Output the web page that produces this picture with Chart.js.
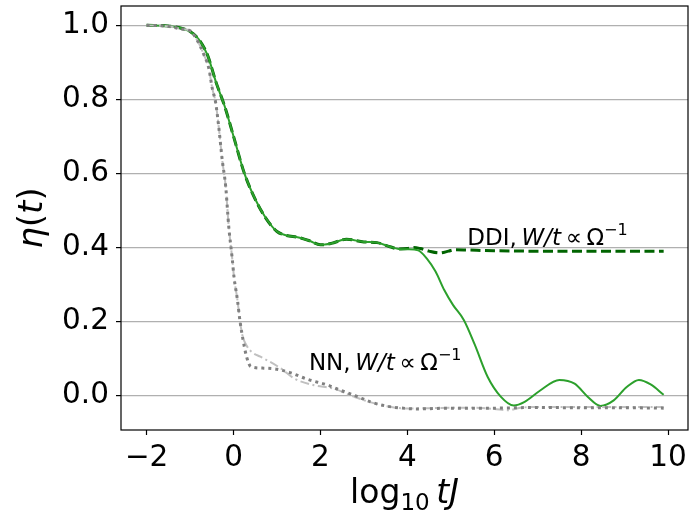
<!DOCTYPE html>
<html>
<head>
<meta charset="utf-8">
<script src="https://cdn.jsdelivr.net/npm/chart.js@4.4.1/dist/chart.umd.min.js"></script>
<style>
  html, body { margin: 0; padding: 0; background: #fff; }
  #wrap { width: 689px; height: 523px; }
</style>
</head>
<body>
<div id="wrap"><canvas id="chart" width="689" height="523"></canvas></div>
<script>
// Eixo x: log10 tJ, eixo y: eta(t)
const xTicks = [-2, 0, 2, 4, 6, 8, 10];
const yTicks = [0.0, 0.2, 0.4, 0.6, 0.8, 1.0];

// DDI, linha verde continua
const ddiSolidX = [-2, -1.5, -1.2, -1.0, -0.8, -0.6, -0.4, -0.2, 0, 0.25, 0.5, 0.75, 1.0, 1.2, 1.5, 1.75, 2.0, 2.25, 2.6, 3.0, 3.3, 3.6, 3.8, 4.0, 4.25, 4.45, 4.65, 4.85, 5.05, 5.3, 5.55, 5.85, 6.15, 6.45, 6.7, 7.05, 7.5, 7.85, 8.15, 8.45, 8.75, 9.05, 9.33, 9.6, 9.9];
const ddiSolidY = [1.0, 0.998, 0.992, 0.983, 0.962, 0.92, 0.845, 0.78, 0.70, 0.60, 0.53, 0.478, 0.443, 0.433, 0.427, 0.418, 0.407, 0.411, 0.422, 0.415, 0.413, 0.402, 0.396, 0.395, 0.392, 0.37, 0.335, 0.285, 0.245, 0.204, 0.138, 0.05, -0.003, -0.027, -0.017, 0.013, 0.042, 0.032, -0.003, -0.028, -0.013, 0.023, 0.042, 0.03, 0.002];

// DDI, W/t ~ Omega^-1 (tracejada verde escura)
const ddiDashedX = [-2, -1.5, -1.2, -1.0, -0.8, -0.6, -0.4, -0.2, 0, 0.25, 0.5, 0.75, 1.0, 1.2, 1.5, 1.75, 2.0, 2.25, 2.6, 3.0, 3.3, 3.6, 3.8, 4.0, 4.15, 4.3, 4.5, 4.75, 4.95, 5.1, 5.4, 6.0, 7.0, 8.0, 9.0, 9.9];
const ddiDashedY = [1.0, 0.998, 0.992, 0.983, 0.962, 0.92, 0.845, 0.78, 0.70, 0.60, 0.53, 0.478, 0.443, 0.433, 0.427, 0.418, 0.407, 0.411, 0.422, 0.415, 0.413, 0.402, 0.396, 0.397, 0.40, 0.397, 0.39, 0.385, 0.39, 0.394, 0.393, 0.391, 0.39, 0.39, 0.39, 0.39];

// NN, W/t ~ Omega^-1 (traco-ponto cinza claro)
const nnDashDotX = [-2, -1.5, -1.2, -1.0, -0.83, -0.68, -0.57, -0.49, -0.41, -0.34, -0.26, -0.18, -0.11, -0.03, 0.01, 0.09, 0.15, 0.2, 0.3, 0.45, 0.62, 1.08, 1.4, 1.85, 2.3, 2.77, 3.4, 4.0, 4.5, 5.0, 5.5, 6.0, 6.3, 6.6, 7.0, 8.0, 9.0, 9.9];
const nnDashDotY = [1.0, 0.997, 0.99, 0.985, 0.958, 0.92, 0.884, 0.83, 0.79, 0.725, 0.636, 0.564, 0.456, 0.37, 0.321, 0.258, 0.2, 0.165, 0.135, 0.115, 0.105, 0.074, 0.046, 0.028, 0.019, -0.003, -0.026, -0.035, -0.034, -0.033, -0.033, -0.036, -0.04, -0.033, -0.031, -0.031, -0.031, -0.031];

// NN (pontilhada cinza)
const nnDottedX = [-2, -1.5, -1.2, -1.0, -0.83, -0.68, -0.57, -0.49, -0.41, -0.34, -0.26, -0.18, -0.11, -0.03, 0.01, 0.09, 0.15, 0.22, 0.3, 0.4, 0.7, 1.0, 1.3, 1.7, 2.2, 2.4, 2.8, 3.15, 3.5, 3.8, 4.2, 5.0, 6.0, 7.0, 8.0, 9.0, 9.9];
const nnDottedY = [1.0, 0.997, 0.99, 0.985, 0.958, 0.92, 0.884, 0.83, 0.79, 0.725, 0.636, 0.564, 0.456, 0.37, 0.321, 0.258, 0.2, 0.15, 0.105, 0.078, 0.074, 0.071, 0.062, 0.044, 0.027, 0.017, 0.0, -0.017, -0.028, -0.033, -0.036, -0.034, -0.034, -0.032, -0.033, -0.033, -0.034];

function pts(xs, ys) {
    return xs.map((x, i) => ({ x: x, y: ys[i] }));
}

const FONT = "'DejaVu Sans', sans-serif";

// Desenha texto com partes de fontes diferentes (mathtext simplificado)
function drawParts(ctx, parts, x, y, align) {
    let total = 0;
    parts.forEach(p => {
        ctx.font = p.font;
        p.w = ctx.measureText(p.t).width;
        total += p.w;
    });
    let cx = align === 'center' ? x - total / 2 : x;
    ctx.textAlign = 'left';
    ctx.textBaseline = 'alphabetic';
    parts.forEach(p => {
        ctx.font = p.font;
        ctx.fillText(p.t, cx, y + (p.dy || 0));
        cx += p.w;
    });
}

function labelParts(name, size) {
    const reg = size + 'px ' + FONT;
    const ita = 'oblique ' + size + 'px ' + FONT;
    const sup = Math.round(size * 0.7) + 'px ' + FONT;
    return [
        { t: name, font: reg },
        { t: ',\u2009', font: reg },
        { t: 'W/t', font: ita },
        { t: '\u2009\u221D\u2009', font: reg },
        { t: '\u03A9', font: reg },
        { t: '\u22121', font: sup, dy: -size * 0.42 }
    ];
}

// Plugin: moldura, rotulos dos eixos e anotacoes
const extras = {
    id: 'extras',
    afterDraw(chart) {
        const ctx = chart.ctx;
        const a = chart.chartArea;
        const xs = chart.scales.x, ys = chart.scales.y;
        ctx.save();
        ctx.strokeStyle = '#000';
        ctx.lineWidth = 1.2;
        ctx.strokeRect(a.left, a.top, a.right - a.left, a.bottom - a.top);

        ctx.fillStyle = '#000';
        // anotacoes
        drawParts(ctx, labelParts('DDI', 23), xs.getPixelForValue(5.38), ys.getPixelForValue(0.407), 'left');
        drawParts(ctx, labelParts('NN', 23), xs.getPixelForValue(1.735), ys.getPixelForValue(0.069), 'left');

        // titulo do eixo x
        drawParts(ctx, [
            { t: 'log', font: '33px ' + FONT },
            { t: '10', font: '23px ' + FONT, dy: 7 },
            { t: '\u2009', font: '33px ' + FONT },
            { t: 'tJ', font: 'oblique 33px ' + FONT }
        ], (a.left + a.right) / 2, 503, 'center');

        // titulo do eixo y
        ctx.translate(42, (a.top + a.bottom) / 2);
        ctx.rotate(-Math.PI / 2);
        drawParts(ctx, [
            { t: '\u03B7', font: 'oblique 34px ' + FONT },
            { t: '(', font: '34px ' + FONT },
            { t: 't', font: 'oblique 34px ' + FONT },
            { t: ')', font: '34px ' + FONT }
        ], 0, 0, 'center');
        ctx.restore();
    }
};

new Chart(document.getElementById('chart'), {
    type: 'line',
    data: {
        datasets: [{
            label: 'DDI',
            data: pts(ddiSolidX, ddiSolidY),
            borderColor: '#2ca02c',
            borderWidth: 2,
            pointRadius: 0,
            cubicInterpolationMode: 'monotone',
            order: 3
        },
        {
            label: 'DDI, W/t ∝ Ω−1',
            data: pts(ddiDashedX, ddiDashedY),
            borderColor: '#006400',
            borderWidth: 3,
            borderDash: [10, 4.5],
            pointRadius: 0,
            cubicInterpolationMode: 'monotone',
            order: 4
        },
        {
            label: 'NN, W/t ∝ Ω−1',
            data: pts(nnDashDotX, nnDashDotY),
            borderColor: '#c0c0c0',
            borderWidth: 2,
            borderDash: [9, 3.5, 2, 3.5],
            pointRadius: 0,
            cubicInterpolationMode: 'monotone',
            order: 2
        },
        {
            label: 'NN',
            data: pts(nnDottedX, nnDottedY),
            borderColor: '#808080',
            borderWidth: 3,
            borderDash: [3, 4],
            pointRadius: 0,
            cubicInterpolationMode: 'monotone',
            order: 1
        }]
    },
    options: {
        responsive: false,
        animation: false,
        layout: { padding: { top: 6, right: 1, left: 0, bottom: 0 } },
        plugins: {
            legend: { display: false },
            tooltip: { enabled: false }
        },
        scales: {
            x: {
                type: 'linear',
                min: -2.59,
                max: 10.46,
                afterFit: function (scale) {
                    scale.height = 93;
                    scale.paddingLeft = 0;
                    scale.paddingRight = 0;
                },
                afterBuildTicks: function (scale) {
                    scale.ticks = xTicks.map(v => ({ value: v }));
                },
                border: { display: false },
                grid: {
                    drawOnChartArea: false,
                    drawTicks: true,
                    tickLength: 5,
                    tickColor: '#000',
                    tickWidth: 1.2
                },
                ticks: {
                    color: '#000',
                    padding: 6,
                    maxRotation: 0,
                    font: { family: FONT, size: 29.5 },
                    callback: function (value) {
                        return value < 0 ? '\u2212' + Math.abs(value) : String(value);
                    }
                }
            },
            y: {
                min: -0.093,
                max: 1.052,
                afterFit: function (scale) {
                    scale.width = 121;
                    scale.paddingTop = 0;
                    scale.paddingBottom = 0;
                },
                afterBuildTicks: function (scale) {
                    scale.ticks = yTicks.map(v => ({ value: v }));
                },
                border: { display: false },
                grid: {
                    color: '#b0b0b0',
                    lineWidth: 1.2,
                    drawTicks: true,
                    tickLength: 5,
                    tickColor: '#000',
                    tickWidth: 1.2
                },
                ticks: {
                    color: '#000',
                    padding: 7,
                    font: { family: FONT, size: 29.5 },
                    callback: function (value) {
                        return value.toFixed(1);
                    }
                }
            }
        }
    },
    plugins: [extras]
});
</script>
</body>
</html>
